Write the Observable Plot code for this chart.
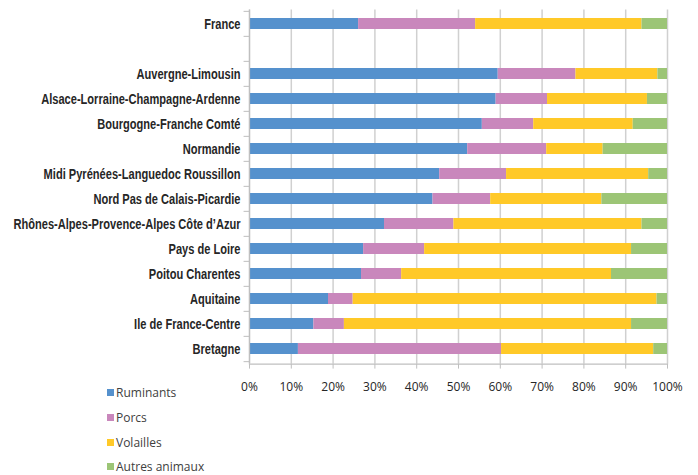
<!DOCTYPE html>
<html>
<head>
<meta charset="utf-8">
<script src="https://cdn.jsdelivr.net/npm/d3@7"></script>
<script src="https://cdn.jsdelivr.net/npm/@observablehq/plot@0.6"></script>
<style>
  html, body { margin: 0; padding: 0; background: #fff; }
  #wrap { position: relative; width: 698px; height: 475px; }
  #legend { position: absolute; left: 107px; top: 380.5px; font-family: "Open Sans", "Liberation Sans", sans-serif; font-size: 12px; color: #404040; }
  #legend div { height: 24.7px; display: flex; align-items: center; }
  #legend span.sw { display: inline-block; width: 7px; height: 7px; margin-right: 2px; }
</style>
</head>
<body>
<div id="wrap"><div id="chart"></div><div id="legend"></div></div>
<script>
const regions = ["France", "", "Auvergne-Limousin", "Alsace-Lorraine-Champagne-Ardenne", "Bourgogne-Franche Comté", "Normandie", "Midi Pyrénées-Languedoc Roussillon", "Nord Pas de Calais-Picardie", "Rhônes-Alpes-Provence-Alpes Côte d’Azur", "Pays de Loire", "Poitou Charentes", "Aquitaine", "Ile de France-Centre", "Bretagne"];
const series = ["Ruminants", "Porcs", "Volailles", "Autres animaux"];
const colors = ["#5591cd", "#c987bc", "#ffc928", "#9cc576"];
const ruminants = [26.1, null, 59.5, 59.0, 55.7, 52.2, 45.5, 43.9, 32.3, 27.3, 26.8, 18.9, 15.4, 11.7];
const porcs     = [28.0, null, 18.6, 12.3, 12.3, 18.9, 16.0, 13.8, 16.6, 14.6,  9.6,  5.9,  7.3, 48.6];
const volailles = [39.8, null, 19.6, 23.9, 23.8, 13.5, 34.0, 26.6, 45.0, 49.5, 50.2, 72.7, 68.7, 36.4];
const autres    = [ 6.1, null,  2.3,  4.8,  8.2, 15.4,  4.5, 15.7,  6.1,  8.6, 13.4,  2.5,  8.6,  3.3];
const xTicks = [0, 10, 20, 30, 40, 50, 60, 70, 80, 90, 100];

const cols = [ruminants, porcs, volailles, autres];
const data = [];
regions.forEach((r, i) => {
  cols.forEach((c, j) => {
    if (c[i] != null) data.push({region: r, type: series[j], value: c[i]});
  });
});

const W = 698, H = 400, mTop = 9.4, mBottom = 36.4;
const step = (H - mTop - mBottom) / regions.length;

const chart = Plot.plot({
  width: W,
  height: H,
  marginLeft: 249,
  marginRight: 31,
  marginTop: mTop,
  marginBottom: mBottom,
  style: {background: "#fff"},
  x: {domain: [0, 100], ticks: xTicks, label: null},
  y: {domain: regions, paddingInner: 0.55, paddingOuter: 0.275, align: 0.5, label: null},
  color: {domain: series, range: colors},
  marks: [
    Plot.gridX(xTicks, {stroke: "#d0d0d0", strokeOpacity: 1, strokeWidth: 1.5}),
    Plot.barX(data, Plot.stackX({y: "region", x: "value", fill: "type", order: series})),
    Plot.ruleX([0], {stroke: "#bfbfbf", strokeWidth: 1.2}),
    Plot.frame({anchor: "bottom", stroke: "#bfbfbf", strokeWidth: 1.2}),
    Plot.ruleY(regions, {y: d => d, x1: -1.3, x2: 0, dy: -step / 2, stroke: "#bfbfbf"}),
    Plot.ruleY([regions[regions.length - 1]], {y: d => d, x1: -1.3, x2: 0, dy: step / 2, stroke: "#bfbfbf"}),
    Plot.axisX({ticks: xTicks, tickFormat: d => d + "%", tickSize: 5, tickPadding: 13, stroke: "#bfbfbf", fontSize: 12, fill: "#262626", label: null, fontFamily: "Open Sans, Liberation Sans, sans-serif"}),
    Plot.axisY({tickSize: 0, tickPadding: 9, fontSize: 14.5, fontWeight: "bold", fill: "#262626", label: null, fontFamily: "Liberation Sans, Arial, sans-serif"})
  ]
});
document.getElementById("chart").appendChild(chart);

// Condense the region labels (the reference uses a narrow bold face)
const labels = chart.querySelectorAll('g[aria-label="y-axis tick label"] text');
let maxW = 0;
labels.forEach(t => { maxW = Math.max(maxW, t.getComputedTextLength()); });
const factor = maxW > 0 ? 227 / maxW : 1;
labels.forEach(t => {
  const w = t.getComputedTextLength();
  if (w > 0) {
    t.setAttribute("textLength", (w * factor).toFixed(1));
    t.setAttribute("lengthAdjust", "spacingAndGlyphs");
  }
});

const legend = document.getElementById("legend");
series.forEach((s, i) => {
  const row = document.createElement("div");
  row.innerHTML = `<span class="sw" style="background:${colors[i]}"></span>${s}`;
  legend.appendChild(row);
});
</script>
</body>
</html>
